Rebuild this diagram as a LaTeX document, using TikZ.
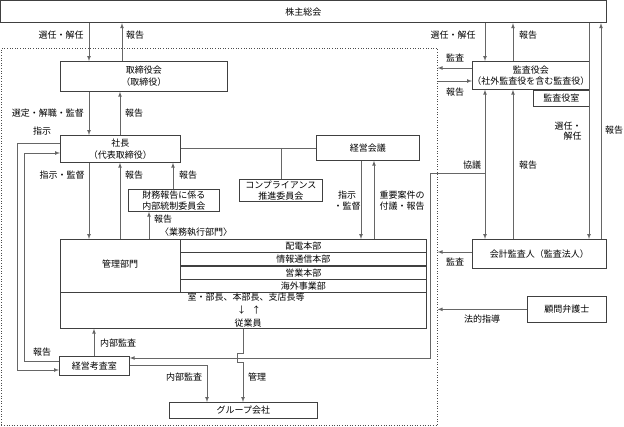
\documentclass[tikz,border=0pt]{standalone}
\usepackage{fontspec}
\setmainfont{Noto Sans CJK JP}
\usetikzlibrary{positioning}
\begin{document}
\begin{tikzpicture}[x=1pt,y=-1pt,
      box/.style={rectangle,draw=black!75,line width=0.7pt,anchor=north west,inner sep=0pt,align=center},
      row/.style={rectangle,draw=black!75,line width=0.7pt,minimum width=246,minimum height=12.75,inner sep=0pt,anchor=north west},
      lbl/.style={inner sep=0pt,align=center},
      ln/.style={line width=0.7pt,draw=black!60},
      arr/.style={ln,-latex}
      ]
      \fontsize{9}{12}\selectfont
      \useasboundingbox (0,0) rectangle (624,427);
      \node (kaisha) [draw=black!70,dotted,line width=0.6pt,minimum width=436,minimum height=377,anchor=north west,inner sep=0pt] at (1,48) {};
      \node (kabu) [box,minimum width=605,minimum height=22] at (0.5,0.5) {株主総会};
      \node (tori) [box,minimum width=167,minimum height=30] at (60,61) {取締役会\\（取締役）};
      \node (shacho) [box,minimum width=120,minimum height=27] at (60,135) {社長\\（代表取締役）};
      \node (zaimu) [box,minimum width=91,minimum height=22,font=\fontsize{9}{11}\selectfont] at (128,189) {財務報告に係る\\内部統制委員会};
      \node (comp) [box,minimum width=83,minimum height=22,font=\fontsize{9}{11}\selectfont] at (239,179) {コンプライアンス\\推進委員会};
      \node (keiei) [box,minimum width=103,minimum height=25] at (316,135) {経営会議};
      \node (kanri) [box,minimum width=366,minimum height=89] at (60,239) {};
      \node (kbu) at (120,264.5) {管理部門};
      \node (haiden) [row] at (180,239) {配電本部};
      \node (joho) [row,below=0pt of haiden] {情報通信本部};
      \node (eigyo) [row,below=0pt of joho] {営業本部};
      \node (kaigai) [row,below=0pt of eigyo] {海外事業部};
      \draw[draw=black!75,line width=0.7pt] (kanri.west |- kaigai.south) -- (kaigai.south west);
      \node (shitsu) [lbl] at (246,297) {室・部長、本部長、支店長等};
      \node (yaji) [lbl] at (249,310) {↓\hspace{6pt}↑};
      \node (ju) [lbl] at (248,323) {従業員};
      \node (keisa) [box,minimum width=70,minimum height=19] at (59,356) {経営考査室};
      \node (group) [box,minimum width=148,minimum height=16] at (169,402) {グループ会社};
      \node (kansa) [box,minimum width=112,minimum height=28,font=\fontsize{9}{11}\selectfont] at (472,61) {監査役会\\（社外監査役を含む監査役）};
      \node (kshitsu) [box,minimum width=56,minimum height=16,below left=0pt of kansa.south east] {監査役室};
      \node (kaikei) [box,minimum width=134,minimum height=29] at (472,239) {会計監査人（監査法人）};
      \node (bengo) [box,minimum width=79,minimum height=26] at (527,296) {顧問弁護士};
      \draw[arr] (kabu.south -| 89,0) -- (tori.north -| 89,0);
      \node [lbl] at (61,35) {選任・解任};
      \draw[arr] (tori.north -| 122,0) -- (kabu.south -| 122,0);
      \node [lbl] at (135,35) {報告};
      \draw[arr] (tori.south -| 89,0) -- (shacho.north -| 89,0);
      \node [lbl] at (48,113) {選定・解職・監督};
      \draw[arr] (shacho.north -| 120,0) -- (tori.south -| 120,0);
      \node [lbl] at (134,113) {報告};
      \draw[arr] (shacho.west |- 0,143) -- (17,143) |- (keisa.west |- 0,370);
      \node [lbl] at (42,131) {指示};
      \draw[arr] (keisa.west |- 0,361) -- (24,361) |- (shacho.west |- 0,153);
      \node [lbl] at (42,352) {報告};
      \draw[arr] (shacho.south -| 89,0) -- (kanri.north -| 89,0);
      \node [lbl] at (62,175) {指示・監督};
      \draw[arr] (kanri.north -| 120,0) -- (shacho.south -| 120,0);
      \node [lbl] at (134,175) {報告};
      \draw[arr] (zaimu.north -| 173,0) -- (shacho.south -| 173,0);
      \node [lbl] at (188,175) {報告};
      \draw[arr] (kanri.north -| 149,0) -- (zaimu.south -| 149,0);
      \node [lbl] at (163,219) {報告};
      \node [lbl] at (196,232) {〈業務執行部門〉};
      \draw[ln] (shacho.east |- 0,148) -- (keiei.west |- 0,148);
      \draw[ln] (281,148) -- (comp.north -| 281,0);
      \draw[arr] (keiei.south -| 361,0) -- (kanri.north -| 361,0);
      \node [lbl,font=\fontsize{9}{11}\selectfont] at (347,201) {指示\\・監督};
      \draw[arr] (kanri.north -| 374,0) -- (keiei.south -| 374,0);
      \node [lbl,align=left,font=\fontsize{9}{11}\selectfont] at (402,201) {重要案件の\\付議・報告};
      \draw[arr] (keisa.north -| 94,0) -- (kanri.south -| 94,0);
      \node [lbl] at (118,343) {内部監査};
      \draw[arr] (keisa.east |- 0,365) -| (group.north -| 207,0);
      \node [lbl] at (184,377) {内部監査};
      \draw[arr] (kanri.south -| 243,0) -- (243,353) -- (237,353) -- (237,362) -- (243,362) -- (group.north -| 243,0);
      \node [lbl] at (257,377) {管理};
      \draw[arr] (kabu.south -| 485,0) -- (kansa.north -| 485,0);
      \node [lbl] at (453,35) {選任・解任};
      \draw[arr] (kansa.north -| 513,0) -- (kabu.south -| 513,0);
      \node [lbl] at (528,35) {報告};
      \draw[arr] (kansa.west |- 0,68) -- (kaisha.east |- 0,68);
      \node [lbl] at (455,58) {監査};
      \draw[arr] (kaisha.east |- 0,81) -- (kansa.west |- 0,81);
      \node [lbl] at (455,92) {報告};
      \draw[arr,latex-latex] (kansa.south -| 485,0) -- (kaikei.north -| 485,0);
      \draw[arr] (485,173) -- (430,173) |- (keisa.east |- 0,358);
      \node [lbl] at (472,165) {協議};
      \draw[arr] (kaikei.north -| 513,0) -- (kansa.south -| 513,0);
      \node [lbl] at (528,165) {報告};
      \draw[arr] (kabu.south -| 589,0) -- (kaikei.north -| 589,0);
      \node [lbl,align=right,font=\fontsize{9}{10}\selectfont] at (568,131) {選任・\\解任};
      \draw[arr] (kaikei.north -| 601,0) -- (kabu.south -| 601,0);
      \node [lbl] at (614,130) {報告};
      \draw[arr] (kaikei.west |- 0,252) -- (kaisha.east |- 0,252);
      \node [lbl] at (455,262) {監査};
      \draw[arr] (bengo.west) -- (kaisha.east |- bengo.west);
      \node [lbl] at (482,319) {法的指導};
    \end{tikzpicture}
\end{document}
